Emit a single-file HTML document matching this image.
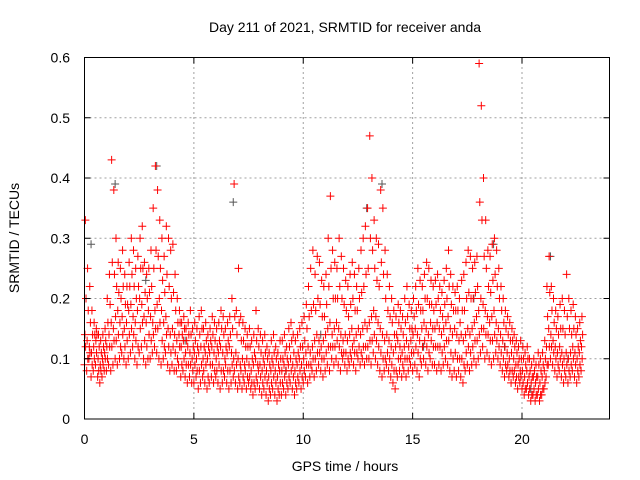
<!DOCTYPE html>
<html><head><meta charset="utf-8"><style>
body{margin:0;background:#fff}
svg{display:block;font-family:"Liberation Sans",sans-serif}
</style></head><body>
<svg id="chart" width="640" height="480" viewBox="0 0 640 480" xmlns="http://www.w3.org/2000/svg">
<rect width="640" height="480" fill="#fff"/>
<g id="grid"></g>
<g id="pts"></g>
<rect x="84.5" y="57.5" width="525" height="361.5" fill="none" stroke="#000" stroke-width="1"/>
<g id="ticks"></g>
<text x="345" y="32" font-size="14" text-anchor="middle">Day 211 of 2021, SRMTID for receiver anda</text>
<text x="19" y="238" font-size="14" text-anchor="middle" transform="rotate(-90 19 238)">SRMTID / TECUs</text>
<text x="345" y="471" font-size="14" text-anchor="middle">GPS time / hours</text>
</svg>
<script>
const xTicks=[0,5,10,15,20];
const yTicks=[0,0.1,0.2,0.3,0.4,0.5,0.6];
const yTickLabels=["0","0.1","0.2","0.3","0.4","0.5","0.6"];
const redLo=[9,8,10,7,8,9,7,6,7,8, 8,9,8,9,10,9,10,11,10,9, 10,11,12,10,9,11,12,10,9,10, 10,11,12,11,10,9,10,11,9,8, 9,8,8,9,7,8,7,6,7,6, 6,7,5,6,7,6,5,6,7,6, 7,6,5,6,7,6,5,6,7,6, 5,6,5,6,5,6,5,4,5,6, 5,4,5,4,3,4,5,4,3,4, 4,5,4,5,6,5,4,5,6,5, 6,7,6,7,8,7,8,9,8,7, 8,9,8,10,9,10,9,8,10,9, 8,9,10,9,8,10,9,10,9,10, 10,9,11,10,9,8,7,8,9,8, 7,6,5,7,8,7,8,7,8,9, 8,9,8,7,9,10,9,8,10,9, 9,8,9,8,9,10,9,8,7,8, 7,8,7,6,8,9,8,9,10,9, 10,11,12,10,11,10,9,10,11,10, 9,8,7,8,7,6,7,6,5,6, 5,4,5,4,3,4,3,4,3,4, 5,7,9,10,9,8,7,8,7,6, 7,6,7,8,7,6,7,8];
const redQ1=[12,10,11,9,10,11,8,8,9,10, 10,12,12,13,13,14,12,14,12,13, 14,15,14,13,12,15,16,13,12,14, 13,14,15,15,16,13,12,14,12,11, 12,11,10,12,9,10,9,9,9,8, 9,8,8,9,8,9,7,9,9,8, 8,9,8,8,9,8,8,9,8,9, 7,8,7,8,7,7,6,6,7,8, 7,6,7,6,5,6,7,6,5,6, 6,7,6,7,8,7,6,7,8,7, 8,9,9,9,10,10,11,11,10,10, 11,12,12,12,12,13,12,11,11,11, 10,11,12,11,11,12,11,12,12,12, 13,13,14,13,12,11,10,10,11,10, 9,8,8,10,10,9,10,10,10,11, 11,12,11,10,12,13,12,11,13,12, 12,12,12,11,12,13,13,11,10,11, 10,10,10,9,11,12,11,12,13,13, 14,15,15,14,14,13,13,14,13,12, 11,10,9,9,8,8,8,7,7,7, 6,5,6,5,4,5,4,5,4,5, 6,9,12,12,11,10,9,10,9,8, 9,8,9,10,9,8,9,10];
const redMid=[14,13,12,11,12,13,10,9,10,11, 12,14,16,15,17,18,16,17,15,16, 18,19,17,16,18,20,19,17,16,18, 17,16,18,19,20,18,16,17,15,14, 15,14,13,14,12,13,11,12,11,10, 11,10,11,12,10,11,10,11,12,11, 10,11,12,11,10,11,12,11,10,11, 10,9,10,9,10,9,8,9,10,9, 9,8,9,8,7,8,9,8,7,8, 8,9,8,9,10,9,8,9,10,9, 10,11,12,11,12,13,14,13,12,13, 14,15,16,14,15,16,15,14,13,14, 13,14,15,13,14,15,14,15,16,15, 16,17,18,17,16,15,14,13,14,13, 12,11,12,13,12,11,12,13,12,13, 14,15,14,13,15,16,15,14,16,15, 15,16,15,14,15,16,17,15,14,15, 14,13,14,13,14,15,14,15,16,17, 18,20,19,18,17,16,17,18,16,15, 14,13,12,11,10,11,10,9,9,8, 8,7,8,7,6,7,6,7,6,7, 8,12,15,14,13,12,11,12,11,10, 11,10,11,12,11,10,11,12];
const redQ3=[20,18,16,14,14,14,12,11,12,13, 16,19,26,24,22,21,20,22,19,19, 22,24,22,20,22,25,25,21,20,21, 22,25,28,27,25,23,21,24,22,20, 21,18,16,16,14,15,13,14,14,12, 13,12,14,15,12,13,12,13,14,13, 12,13,15,14,12,13,14,15,17,14, 16,13,13,12,12,12,10,11,13,12, 11,10,11,10,9,10,11,10,9,10, 10,11,10,12,13,11,10,11,12,12, 13,15,17,18,19,18,20,19,17,17, 19,22,25,20,20,20,22,20,19,18, 17,19,20,18,18,20,21,22,24,25, 30,28,25,23,22,26,24,20,18,17, 16,14,14,16,15,14,16,17,15,15, 17,18,19,18,18,20,20,19,19,18, 19,20,18,17,19,20,22,19,18,18, 18,16,18,18,20,21,20,20,21,22, 36,33,27,25,22,21,23,24,22,20, 18,16,15,14,13,13,12,11,10,10, 10,9,10,8,7,8,7,9,8,9, 10,17,21,18,16,15,14,15,15,14, 17,15,14,15,14,12,13,14];
const redHi=[33,25,22,18,16,15,14,13,14,15, 20,24,43,38,30,26,25,28,24,22, 26,30,28,25,27,30,32,26,24,25, 28,35,42,38,33,30,27,32,30,28, 29,24,20,18,16,17,15,16,18,15, 16,15,17,18,15,16,14,15,17,16, 15,16,18,17,15,16,17,20,39,18, 25,17,16,15,14,15,13,14,18,15, 14,13,14,12,11,13,14,12,11,13, 13,14,12,15,16,14,13,14,15,16, 17,19,22,25,28,24,27,26,23,22, 24,30,37,28,26,25,30,27,25,23, 22,24,26,24,22,25,28,30,32,35, 47,40,33,30,29,38,35,28,24,22, 20,18,17,19,18,17,20,22,19,18, 20,22,25,23,22,24,26,25,23,22, 23,24,22,21,23,25,28,24,22,21, 22,20,23,24,26,28,27,25,26,27, 59,52,40,33,28,27,29,30,28,25, 22,20,18,17,16,15,14,13,12,13, 12,11,12,10,9,10,9,11,10,11, 13,22,27,22,20,18,17,19,20,18, 24,20,18,19,17,15,16,17];
const grayT=[0.3,1.4,2.8,3.3,4.6,6.8,9.2,10.8,12.9,13.6,15.5,17.8,18.7,19.2,20.4,21.3,22.1];
const grayV=[0.29,0.39,0.23,0.42,0.13,0.36,0.08,0.14,0.35,0.39,0.12,0.2,0.29,0.12,0.05,0.27,0.1];

const X0=84.5,X1=609.5,Y0=419,Y1=57.5;
const xs=h=>X0+h/24*(X1-X0);
const ys=v=>Y0-v/0.6*(Y0-Y1);
const NS="http://www.w3.org/2000/svg";
const grid=document.getElementById('grid'),ticks=document.getElementById('ticks'),pts=document.getElementById('pts');
function mk(tag,at,par){const e=document.createElementNS(NS,tag);for(const k in at)e.setAttribute(k,at[k]);par.appendChild(e);return e;}
xTicks.forEach(t=>{const x=xs(t);
 if(t>0){const g=mk('line',{x1:x,x2:x,y1:Y0,y2:Y1,stroke:'#a0a0a0','stroke-dasharray':'2,3'},grid);
 
 }
 const tk=mk('path',{d:`M${x},${Y0}v-6M${x},${Y1}v6`,stroke:'#000'},ticks);
 
 
 const l=mk('text',{x:x,y:444,'font-size':14,'text-anchor':'middle'},ticks);l.textContent=t;
 
 
});
yTicks.forEach((v,i)=>{const y=ys(v);
 if(i>0&&i<yTicks.length-1){const g=mk('line',{x1:X0,x2:X1,y1:y,y2:y,stroke:'#a0a0a0','stroke-dasharray':'2,3'},grid);
 
 }
 const tk=mk('path',{d:`M${X0},${y}h6M${X1},${y}h-6`,stroke:'#000'},ticks);
 
 
 const l=mk('text',{x:70,y:y+5,'font-size':14,'text-anchor':'end'},ticks);l.textContent=yTickLabels[i];
 
 
});
function plus(h,v,col,name){const x=xs(h),y=ys(v);
 const p=mk('path',{d:`M${x-4},${y}h8M${x},${y-4}v8`,stroke:col,'stroke-width':1,fill:'none'},pts);
 
 }
grayT.forEach((t,i)=>plus(t,grayV[i],'#555','gray-point'));
const series=[redLo,redQ1,redMid,redQ3,redHi];
const offs=[0,0.05,0.02,0.07,0.04];
series.forEach((arr,s)=>arr.forEach((v,i)=>plus(i*0.1+offs[s],v/100,'#f00','red-point')));
</script>
</body></html>
